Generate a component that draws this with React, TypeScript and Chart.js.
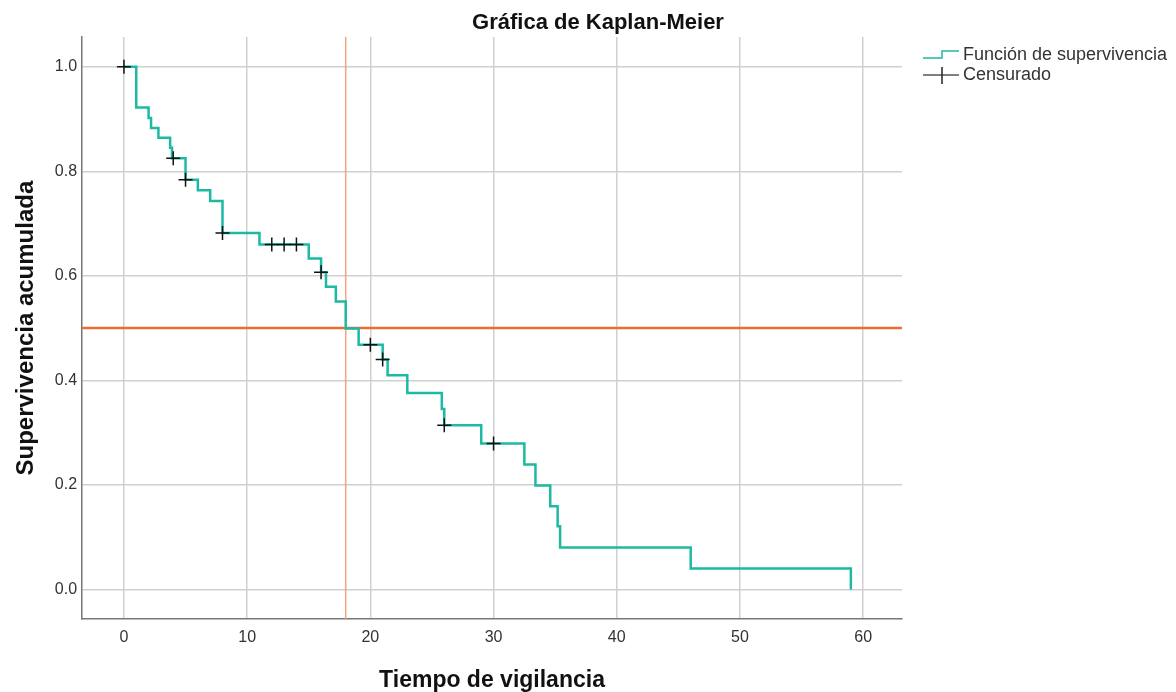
import React, { useEffect, useRef } from "react";
import { Chart, registerables } from "chart.js";

Chart.register(...registerables);

const eventTimes = [0, 1, 2, 2.2, 2.8, 3.75, 3.9, 5, 6, 7, 8, 11, 15, 16, 16.4, 17.2, 18, 19.05, 21, 21.4, 23, 25.8, 26, 29, 32.5, 33.4, 34.6, 35.2, 35.4, 46, 59];
const survival = [1.0, 0.922, 0.902, 0.883, 0.864, 0.845, 0.825, 0.784, 0.764, 0.743, 0.682, 0.66, 0.633, 0.607, 0.579, 0.551, 0.499, 0.468, 0.44, 0.41, 0.376, 0.345, 0.314, 0.279, 0.239, 0.199, 0.159, 0.121, 0.08, 0.04, 0.0];
const censorTimes = [0, 4, 5, 8, 12, 13, 14, 16, 20, 21, 26, 30];
const censorValues = [1.0, 0.825, 0.784, 0.682, 0.66, 0.66, 0.66, 0.607, 0.468, 0.44, 0.314, 0.279];
const xTicks = [0, 10, 20, 30, 40, 50, 60];
const yTicks = [0, 0.2, 0.4, 0.6, 0.8, 1.0];
const medianSurvival = 0.5;
const medianTime = 18;
const xRange = [-3.4, 63.15];
const yRange = [-0.057, 1.057];

const TEAL = "#1DB9A3";
const FONT = "'Liberation Sans', Arial, sans-serif";

export default function App() {
  const ref = useRef<HTMLCanvasElement>(null);
  useEffect(() => {
    document.body.style.margin = "0";
    const ctx = ref.current!.getContext("2d")!;
    const chart = new Chart(ctx, {
      type: "line",
      data: {
        datasets: [
          {
            label: "Median H",
            data: [{ x: xRange[0], y: medianSurvival }, { x: xRange[1], y: medianSurvival }],
            borderColor: "#F26B30",
            borderWidth: 2.5,
            pointRadius: 0,
            order: 3,
          },
          {
            label: "Median V",
            data: [{ x: medianTime, y: yRange[0] }, { x: medianTime, y: yRange[1] }],
            borderColor: "#F4A27E",
            borderWidth: 1.5,
            pointRadius: 0,
            order: 4,
          },
          {
            label: "Función de supervivencia",
            data: eventTimes.map((t, i) => ({ x: t, y: survival[i] })),
            borderColor: TEAL,
            borderWidth: 2.5,
            stepped: "before",
            pointRadius: 0,
            order: 2,
          },
          {
            label: "Censurado",
            type: "scatter",
            data: censorTimes.map((t, i) => ({ x: t, y: censorValues[i] })),
            pointStyle: "cross",
            pointRadius: 7,
            borderColor: "#111",
            borderWidth: 1.5,
            showLine: false,
            order: 1,
          },
        ] as any,
      },
      options: {
        animation: false,
        responsive: false,
        layout: { padding: { right: 274, top: 37, left: 12, bottom: -2 } },
        plugins: {
          legend: { display: false },
          tooltip: { enabled: false },
          title: { display: false },
        },
        scales: {
          x: {
            type: "linear",
            min: xRange[0],
            max: xRange[1],
            afterBuildTicks: (s: any) => {
              s.ticks = xTicks.map((v) => ({ value: v }));
            },
            ticks: { color: "#333", font: { family: FONT, size: 16 }, padding: 9, callback: (v: any) => String(v) },
            grid: { color: "#d0d0d0", lineWidth: 1.5, drawTicks: false },
            border: { color: "#777", width: 1.5 },
            title: {
              display: true,
              text: "Tiempo de vigilancia",
              color: "#111",
              font: { family: FONT, size: 23, weight: "bold" },
              padding: { top: 10, bottom: 0 },
            },
          },
          y: {
            type: "linear",
            min: yRange[0],
            max: yRange[1],
            afterBuildTicks: (s: any) => {
              s.ticks = yTicks.map((v) => ({ value: v }));
            },
            ticks: { color: "#333", font: { family: FONT, size: 16 }, padding: 5, callback: (v: any) => Number(v).toFixed(1) },
            grid: { color: "#d0d0d0", lineWidth: 1.5, drawTicks: false },
            border: { color: "#777", width: 1.5 },
            title: {
              display: true,
              text: "Supervivencia acumulada",
              color: "#111",
              font: { family: FONT, size: 24, weight: "bold" },
              padding: { top: 0, bottom: 9 },
            },
          },
        },
      },
    });
    return () => chart.destroy();
  }, []);

  return (
    <div style={{ position: "relative", width: 1176, height: 692, background: "#fff" }}>
      <canvas ref={ref} width={1176} height={692} style={{ display: "block" }} />
      <div style={{ position: "absolute", left: 0, width: 1196, top: 9, textAlign: "center", fontFamily: FONT, fontSize: 22, fontWeight: "bold", color: "#111", lineHeight: "26px" }}>
        Gráfica de Kaplan-Meier
      </div>
      <div style={{ position: "absolute", left: 922, top: 44, fontFamily: FONT, fontSize: 18, color: "#333", lineHeight: "20px" }}>
        <div style={{ display: "flex", alignItems: "center", height: 20 }}>
          <svg width="38" height="20" style={{ marginRight: 3 }}>
            <polyline points="1,14 20,14 20,7 37,7" fill="none" stroke={TEAL} strokeWidth="1.5" />
          </svg>
          <span>Función de supervivencia</span>
        </div>
        <div style={{ display: "flex", alignItems: "center", height: 20 }}>
          <svg width="38" height="20" style={{ marginRight: 3 }}>
            <line x1="1" y1="11" x2="37" y2="11" stroke="#555" strokeWidth="1.5" />
            <line x1="20" y1="3" x2="20" y2="20" stroke="#222" strokeWidth="1.5" />
          </svg>
          <span>Censurado</span>
        </div>
      </div>
    </div>
  );
}
